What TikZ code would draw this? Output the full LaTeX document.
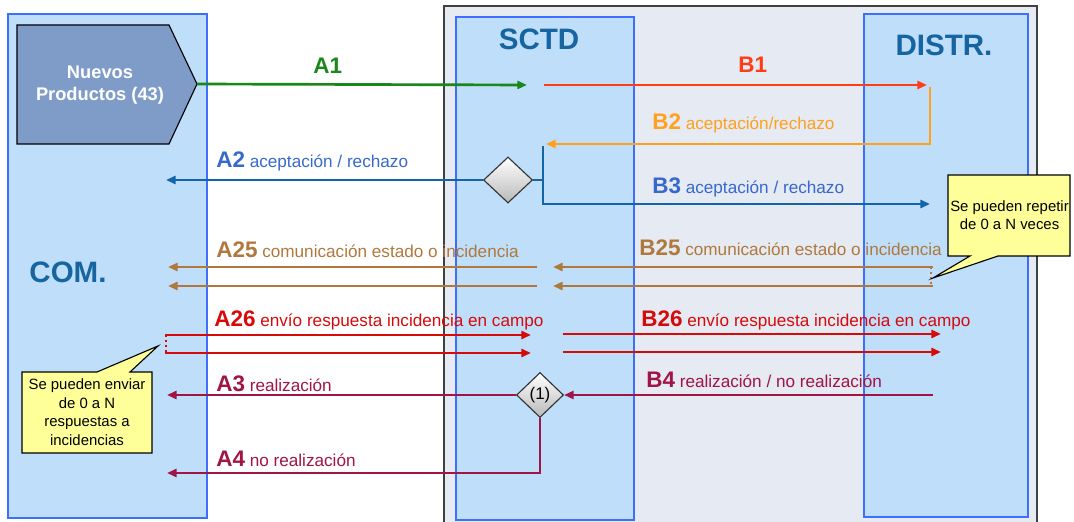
\documentclass[tikz,border=0pt]{standalone}
\usepackage{fontspec}
\setmainfont{Liberation Sans}
\usetikzlibrary{arrows.meta,shapes.geometric}

\definecolor{lanefill}{RGB}{190,222,250}
\definecolor{laneline}{RGB}{60,110,255}
\definecolor{bgfill}{RGB}{229,234,243}
\definecolor{titleblue}{RGB}{22,100,160}
\definecolor{prodfill}{RGB}{127,156,200}
\definecolor{cA}{RGB}{25,135,25}
\definecolor{cB}{RGB}{255,60,20}
\definecolor{cOr}{RGB}{255,160,30}
\definecolor{cBl}{RGB}{20,100,170}
\definecolor{cBlt}{RGB}{55,105,205}
\definecolor{cBr}{RGB}{176,120,60}
\definecolor{cRd}{RGB}{215,10,10}
\definecolor{cCr}{RGB}{160,20,70}
\definecolor{noteyellow}{RGB}{255,255,153}

\newcommand{\msgtxt}[2]{{\fontsize{16}{18}\selectfont\bfseries #1}{\fontsize{12.2}{14}\selectfont\ #2}}

\tikzset{
  lane/.style={draw=laneline, line width=2pt, fill=lanefill},
  flow/.style={line width=1.9pt, -{Triangle[length=2.4mm,width=2mm]}},
  plain/.style={line width=1.9pt},
  decision/.style={diamond, draw=black!80, line width=0.8pt, top color=white, bottom color=gray!55, inner sep=0pt, font=\fontsize{12}{14}\selectfont},
  lanetitle/.style={font=\fontsize{21}{24}\selectfont\bfseries, text=titleblue},
  msg/.style={anchor=west, inner sep=0pt},
  note/.style={draw=black, line width=0.8pt, fill=noteyellow},
  notetext/.style={align=center, inner sep=0pt, font=\fontsize{10.6}{13.2}\selectfont},
}

\begin{document}
\begin{tikzpicture}[x=0.25mm, y=-0.25mm]
    \useasboundingbox (0,0) rectangle (1074,522);

    % fondo SCTD / DISTR
    \fill[bgfill] (444,6) rectangle (1037,522);
    \draw[black!75, line width=1.2pt] (444,522) -- (444,6) -- (1037,6) -- (1037,522);

    % calles
    \draw[lane] (8,14) rectangle (207,518);
    \draw[lane] (456,17) rectangle (634,520);
    \draw[lane] (864,14) rectangle (1028,517);
    \node[lanetitle] (tcom) at (68,272) {COM.};
    \node[lanetitle] (tsctd) at (539,39) {SCTD};
    \node[lanetitle] (tdistr) at (944,45) {DISTR.};

    % nuevos productos
    \draw[fill=prodfill, line width=0.8pt] (17,25) -- (169,25) -- (197,84) -- (169,144) -- (17,144) -- cycle;
    \coordinate (prod) at (197,84);
    \node[align=center, text=white, font=\fontsize{13}{15.6}\selectfont\bfseries] (prodtxt) at (100,85) {Nuevos\\Productos (43)};

    % decisiones
    \node[decision, minimum width=12.25mm, minimum height=11.5mm] (dA) at (508,180) {};
    \node[decision, minimum width=11.75mm, minimum height=11.25mm] (dB) at (540,395) {(1)};

    % puntos de los mensajes
    \coordinate (a1e) at (527,85);
    \coordinate (b1s) at (544,85);
    \coordinate (b1e) at (927,85);
    \coordinate (b2s) at (930,87);
    \coordinate (b2e) at (546,144);
    \coordinate (a2e) at (166,180);
    \coordinate (b3s) at (543,146);
    \coordinate (b3e) at (930,204);
    \coordinate (a4e) at (167,473);
    \coordinate (a3e) at (167,395);
    \coordinate (b4s) at (933,395);

    % A1, B1, B2
    \draw[flow, cA] (prod) -- (a1e);
    \draw[flow, cB] (b1s) -- (b1e);
    \draw[flow, cOr] (b2s) |- (b2e);
    \node[msg, text=cA, font=\fontsize{16}{18}\selectfont\bfseries] (la1) at (313,66) {A1};
    \node[msg, text=cB, font=\fontsize{16}{18}\selectfont\bfseries] (lb1) at (738,65) {B1};
    \node[msg, text=cOr] (lb2) at (652,123) {\msgtxt{B2}{aceptación/rechazo}};

    % A2, B3
    \draw[flow, cBl] (dA.west) -- (a2e);
    \draw[plain, cBl] (dA.east) -- (dA.east -| b3s);
    \draw[flow, cBl] (b3s) |- (b3e);
    \node[msg, text=cBlt] (la2) at (216,161) {\msgtxt{A2}{aceptación / rechazo}};
    \node[msg, text=cBlt] (lb3) at (652,187) {\msgtxt{B3}{aceptación / rechazo}};

    % A25, B25, A26, B26
    \foreach \y in {267,286} {
        \draw[flow, cBr] (537,\y) -- (168,\y);
        \draw[flow, cBr] (933,\y) -- (553,\y);
    }
    \foreach \y/\z in {335/334,353/352} {
        \draw[flow, cRd] (165,\y) -- (531,\y);
        \draw[flow, cRd] (563,\z) -- (941,\z);
    }
    \draw[cBr, line width=1.9pt, dash pattern=on 1.5pt off 2pt] (931,267) -- (931,286);
    \draw[cRd, line width=1.9pt, dash pattern=on 1.5pt off 2pt] (166,335) -- (166,353);
    \node[msg, text=cBr] (la25) at (216,250) {\msgtxt{A25}{comunicación estado o incidencia}};
    \node[msg, text=cBr] (lb25) at (639,248) {\msgtxt{B25}{comunicación estado o incidencia}};
    \node[msg, text=cRd] (la26) at (214,320) {\msgtxt{A26}{envío respuesta incidencia en campo}};
    \node[msg, text=cRd] (lb26) at (641,320) {\msgtxt{B26}{envío respuesta incidencia en campo}};

    % A3, B4, A4
    \draw[flow, cCr] (dB.west) -- (a3e);
    \draw[flow, cCr] (b4s) -- (dB.east);
    \draw[flow, cCr] (dB.south) |- (a4e);
    \node[msg, text=cCr] (la3) at (216,384) {\msgtxt{A3}{realización}};
    \node[msg, text=cCr] (lb4) at (646,380) {\msgtxt{B4}{realización / no realización}};
    \node[msg, text=cCr] (la4) at (216,459) {\msgtxt{A4}{no realización}};

    % notas
    \draw[note] (22,372) -- (97,372) -- (158,346) -- (130,372) -- (152,372) -- (152,453) -- (22,453) -- cycle;
    \node[notetext] (n1) at (87,412) {Se pueden enviar\\de 0 a N\\respuestas a\\incidencias};
    \draw[note] (948,175) -- (1070,175) -- (1070,256) -- (998,256) -- (933,278) -- (970,256) -- (948,256) -- cycle;
    \begin{scope}
        \clip (948,175) rectangle (1070,256);
        \node[notetext, anchor=west] (n2) at (950,215) {Se pueden repetir\\de 0 a N veces};
    \end{scope}

\end{tikzpicture}
\end{document}
